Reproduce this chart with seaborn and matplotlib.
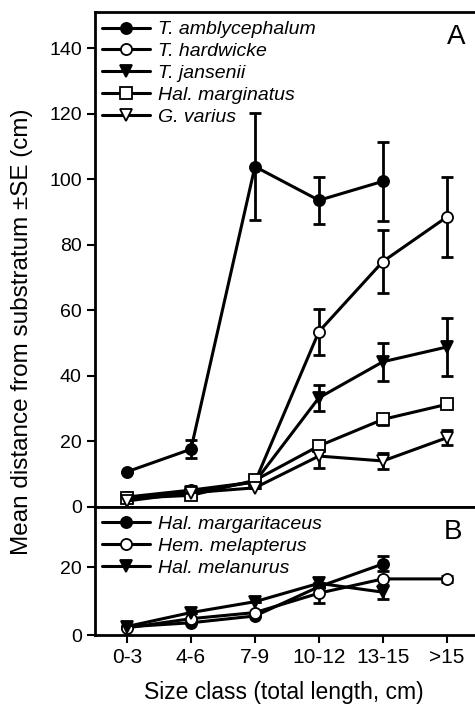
import numpy as np
import pandas as pd
import matplotlib
matplotlib.use("Agg")
import matplotlib.pyplot as plt
import seaborn as sns

categories = ["0-3", "4-6", "7-9", "10-12", "13-15", ">15"]

# Panel A
amb_mean = [10.6, 17.5, 103.8, 93.5, 99.3, np.nan]
amb_se = [0.0, 2.8, 16.4, 7.1, 12.1, np.nan]
har_mean = [2.9, 5.0, 7.5, 53.4, 74.8, 88.4]
har_se = [0.0, 0.0, 0.0, 7.0, 9.7, 12.3]
jan_mean = [2.0, 4.5, 7.5, 33.2, 44.2, 48.7]
jan_se = [0.0, 0.0, 0.0, 4.0, 5.8, 9.0]
mar_mean = [2.5, 3.4, 8.0, 18.5, 26.6, 31.2]
mar_se = [0.0, 0.6, 0.6, 1.0, 1.7, 0.8]
var_mean = [1.7, 4.2, 5.7, 15.4, 13.9, 21.0]
var_se = [0.0, 0.0, 0.0, 3.5, 2.3, 2.3]

# Panel B
mgt_mean = [2.4, 3.6, 5.6, 14.2, 20.9, np.nan]
mgt_se = [0.0, 0.0, 0.0, 0.0, 2.2, np.nan]
mel_mean = [2.1, 4.8, 6.6, 12.3, 16.5, 16.5]
mel_se = [0.0, 0.0, 0.0, 2.8, 0.0, 1.0]
mln_mean = [2.5, 6.6, 9.8, 15.2, 12.6, np.nan]
mln_se = [0.0, 0.0, 0.0, 0.0, 2.0, np.nan]

seriesA = [
    ("T. amblycephalum", amb_mean, amb_se, "o", "black"),
    ("T. hardwicke", har_mean, har_se, "o", "white"),
    ("T. jansenii", jan_mean, jan_se, "v", "black"),
    ("Hal. marginatus", mar_mean, mar_se, "s", "white"),
    ("G. varius", var_mean, var_se, "v", "white"),
]
seriesB = [
    ("Hal. margaritaceus", mgt_mean, mgt_se, "o", "black"),
    ("Hem. melapterus", mel_mean, mel_se, "o", "white"),
    ("Hal. melanurus", mln_mean, mln_se, "v", "black"),
]

sns.set_style("ticks")
plt.rcParams["font.family"] = ["Liberation Sans", "DejaVu Sans"]
plt.rcParams.update({
    "axes.linewidth": 2.0,
    "axes.edgecolor": "black",
    "text.color": "black",
    "axes.labelcolor": "black",
    "xtick.color": "black",
    "ytick.color": "black",
})

FS = 14
fig = plt.figure(figsize=(4.75, 7.11), dpi=100)
axA = fig.add_axes([95 / 475, 1 - 506.5 / 711, 1 - 95 / 475, (506.5 - 12) / 711])
axB = fig.add_axes([95 / 475, 1 - 635 / 711, 1 - 95 / 475, (635 - 506.5) / 711])

x = np.arange(len(categories))


def draw(ax, series):
    for name, m, se, mk, fc in series:
        df = pd.DataFrame({"x": x, "y": m, "se": se}).dropna()
        ax.errorbar(df["x"], df["y"], yerr=df["se"], fmt="none", ecolor="black",
                    elinewidth=2.0, capsize=4, capthick=2.0, zorder=2)
        sns.lineplot(data=df, x="x", y="y", ax=ax, color="black", linewidth=2.2,
                     marker=mk, markersize=8, markerfacecolor=fc,
                     markeredgecolor="black", markeredgewidth=1.3,
                     label=name, zorder=3, legend=False)
    ax.set_xlim(-0.5, 5.44)
    ax.set_xlabel("")
    ax.set_ylabel("")
    ax.spines["right"].set_visible(False)
    ax.tick_params(axis="both", labelsize=FS, width=1.5, length=6, direction="out")
    ax.tick_params(axis="x", labelsize=15)
    handles, labels = ax.get_legend_handles_labels()
    ax.legend(handles, labels, loc="upper left", bbox_to_anchor=(-0.005, 1.0),
              frameon=False, handlelength=2.5,
              handletextpad=0.4, labelspacing=0.22, borderpad=0.45,
              borderaxespad=0.0, prop={"style": "italic", "size": FS})


draw(axA, seriesA)
draw(axB, seriesB)

axA.set_ylim(0, 151)
axA.set_yticks(np.arange(0, 141, 20))
axA.set_xticks(x)
axA.tick_params(axis="x", bottom=False, labelbottom=False)

axB.set_ylim(0, 37.8)
axB.set_yticks([0, 20])
axB.set_xticks(x)
axB.set_xticklabels(categories)

axA.text(0.95, 0.949, "A", transform=axA.transAxes, fontsize=20, ha="center", va="center")
axB.text(0.942, 0.80, "B", transform=axB.transAxes, fontsize=20, ha="center", va="center")

fig.text(22 / 475, 1 - 332 / 711, "Mean distance from substratum \u00b1SE (cm)",
         rotation=90, ha="center", va="center", fontsize=17.5)
fig.text(284 / 475, 1 - 693 / 711, "Size class (total length, cm)",
         ha="center", va="center", fontsize=16.5)

fig.savefig("out.png", dpi=100)
